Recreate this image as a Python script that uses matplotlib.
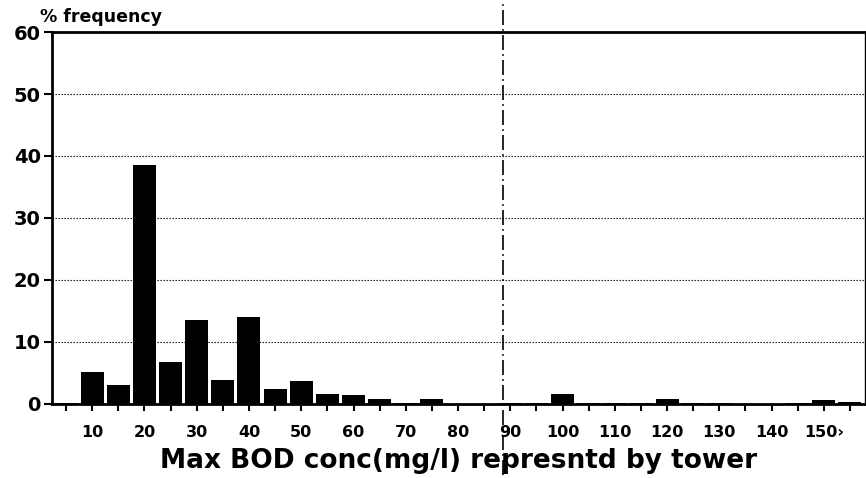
import matplotlib
matplotlib.use("Agg")
import matplotlib.pyplot as plt

# BOD concentration class centres (mg/l) and % frequency
bod = [5, 10, 15, 20, 25, 30, 35, 40, 45, 50, 55, 60, 65, 70, 75, 80,
       85, 90, 95, 100, 105, 110, 115, 120, 125, 130, 135, 140, 145, 150, 155]
freq = [0.2, 5.2, 3.1, 38.6, 6.8, 13.6, 3.9, 14.1, 2.4, 3.7, 1.6, 1.5, 0.75, 0.2, 0.8, 0.0,
        0.0, 0.1, 0.1, 1.6, 0.15, 0.1, 0.1, 0.75, 0.2, 0.1, 0.05, 0.05, 0.1, 0.65, 0.3]
xticks = list(range(5, 160, 5))
xlabels = [str(v) if v % 10 == 0 else "" for v in xticks]
xlabels[xticks.index(150)] = "150\u203a"
yticks = [0, 10, 20, 30, 40, 50, 60]
cutoff = 88.7

plt.rcParams["font.family"] = ["DejaVu Sans"]
plt.rcParams["font.weight"] = "bold"

fig = plt.figure(figsize=(8.66, 4.78), dpi=100)
ax = fig.add_axes([0.060, 0.155, 0.939, 0.778])

ax.bar(bod, freq, width=4.4, color="black", zorder=3)
ax.set_xlim(2.3, 157.9)
ax.set_ylim(0, 60)

ax.set_yticks(yticks)
ax.set_yticklabels([str(v) for v in yticks], fontsize=14, fontweight="bold")
ax.set_xticks(xticks)
ax.set_xticklabels(xlabels, fontsize=11.5, fontweight="bold")
ax.tick_params(axis="x", length=5, width=1.5, pad=10)
ax.tick_params(axis="y", length=6, width=1.5, pad=2)

for y in yticks[1:-1]:
    ax.axhline(y, color="black", lw=0.8, ls=(0, (1.2, 1.5)), zorder=1)

for sp in ("left", "bottom", "top"):
    ax.spines[sp].set_linewidth(2)
ax.spines["right"].set_linewidth(1)

# cut-off marker runs past the axes, down through the x label
ax.axvline(cutoff, ymin=-0.19, ymax=1.09, clip_on=False, color="black",
           lw=1.2, ls=(0, (9, 2.5, 1, 2.5)), zorder=4)

fig.text(0.046, 0.955, "% frequency", fontsize=12.5, fontweight="bold", ha="left")
ax.set_xlabel("Max BOD conc(mg/l) represntd by tower", fontsize=19,
              fontweight="bold", labelpad=6)

fig.savefig("out.png", dpi=100)
